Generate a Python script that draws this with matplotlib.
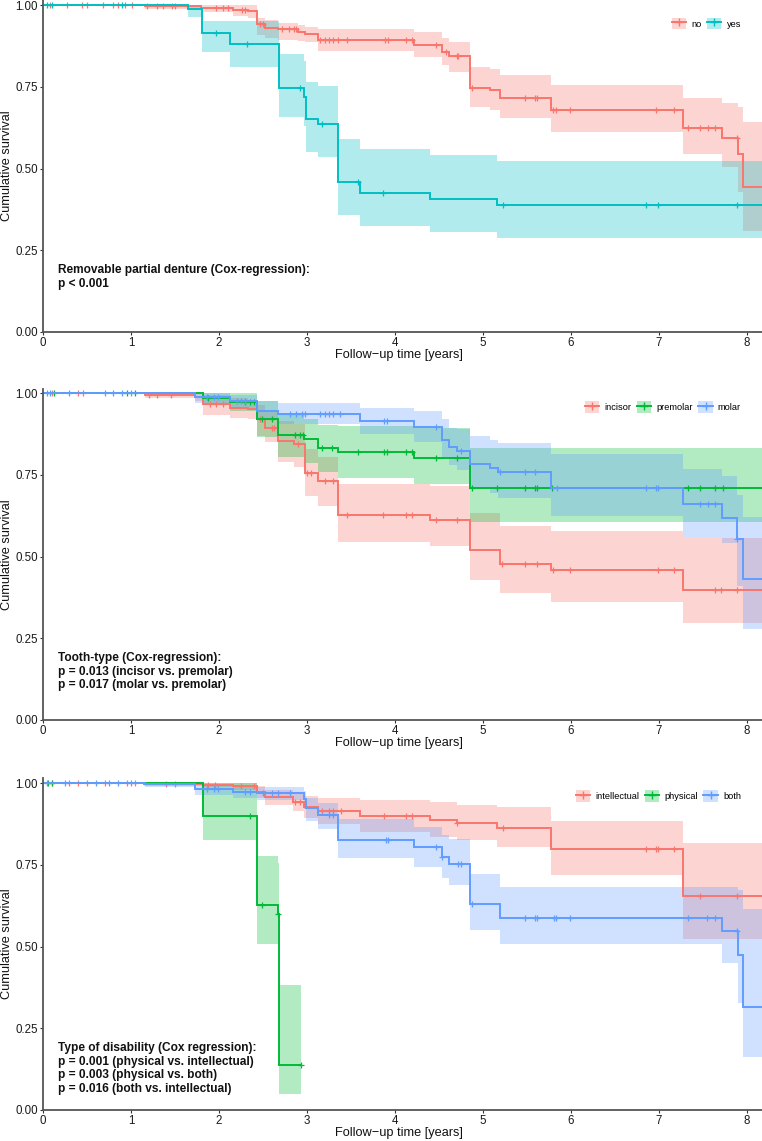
import numpy as np
import matplotlib
matplotlib.use("Agg")
import matplotlib.pyplot as plt
from matplotlib.patches import Patch
from matplotlib.lines import Line2D
from matplotlib.legend_handler import HandlerTuple

plt.rcParams['font.family'] = ['Liberation Sans', 'DejaVu Sans']

# ---------------- Panel 1: removable partial denture ----------------
p1_groups = ["no", "yes"]
p1_no_t = [1.16, 1.80, 2.16, 2.33, 2.43, 2.52, 2.67, 2.90, 2.98, 3.13, 4.21, 4.53, 4.61, 4.85, 5.08, 5.19, 5.77, 7.27, 7.71, 7.90, 7.95]
p1_no_s = [0.997, 0.993, 0.986, 0.983, 0.942, 0.930, 0.926, 0.919, 0.911, 0.894, 0.879, 0.856, 0.845, 0.746, 0.741, 0.715, 0.681, 0.625, 0.595, 0.544, 0.445]
p1_no_lo = [0.990, 0.978, 0.966, 0.962, 0.909, 0.900, 0.894, 0.890, 0.889, 0.860, 0.841, 0.817, 0.795, 0.690, 0.680, 0.654, 0.613, 0.545, 0.506, 0.429, 0.310]
p1_no_hi = [1.0, 1.0, 1.0, 1.0, 0.960, 0.955, 0.946, 0.940, 0.935, 0.927, 0.917, 0.901, 0.887, 0.812, 0.804, 0.787, 0.756, 0.715, 0.702, 0.690, 0.642]
p1_no_c = [0.08, 0.27, 0.44, 0.50, 0.68, 0.80, 0.85, 0.93, 1.01, 1.18, 1.30, 1.36, 1.47, 1.50, 1.97, 2.05, 2.10, 2.26, 2.30, 2.47, 2.50,
           2.72, 2.80, 2.85, 2.88, 3.15, 3.20, 3.25, 3.30, 3.35, 3.45, 3.89, 3.92, 4.13, 4.19, 4.47, 4.58, 4.70, 4.72, 4.88,
           5.48, 5.59, 5.61, 5.79, 5.83, 5.99, 6.97, 7.17, 7.33, 7.47, 7.56, 7.64, 7.89]
p1_no_end = 8.3

p1_yes_t = [1.65, 1.81, 2.125, 2.68, 2.97, 2.99, 3.13, 3.35, 3.60, 4.40, 5.16]
p1_yes_s = [0.989, 0.916, 0.881, 0.748, 0.720, 0.652, 0.637, 0.458, 0.426, 0.407, 0.389]
p1_yes_lo = [0.965, 0.858, 0.810, 0.657, 0.630, 0.552, 0.537, 0.358, 0.325, 0.305, 0.287]
p1_yes_hi = [1.0, 0.952, 0.952, 0.851, 0.830, 0.766, 0.753, 0.590, 0.559, 0.542, 0.523]
p1_yes_c = [0.05, 0.10, 0.90, 1.97, 2.32, 2.92, 3.17, 3.58, 3.86, 5.23, 6.85, 6.99, 7.89]
p1_yes_end = 8.3

# ---------------- Panel 2: tooth type ----------------
p2_groups = ["incisor", "premolar", "molar"]
p2_inc_t = [1.16, 1.73, 1.82, 2.125, 2.33, 2.43, 2.52, 2.67, 2.85, 2.98, 3.13, 3.35, 4.40, 4.85, 5.19, 5.77, 7.27]
p2_inc_s = [0.995, 0.989, 0.966, 0.956, 0.951, 0.920, 0.895, 0.854, 0.844, 0.757, 0.731, 0.627, 0.613, 0.521, 0.478, 0.458, 0.399]
p2_inc_lo = [0.985, 0.975, 0.935, 0.925, 0.920, 0.870, 0.850, 0.790, 0.775, 0.685, 0.654, 0.544, 0.532, 0.429, 0.389, 0.361, 0.297]
p2_inc_hi = [1.0, 1.0, 0.995, 0.985, 0.980, 0.965, 0.945, 0.915, 0.905, 0.830, 0.805, 0.721, 0.716, 0.634, 0.595, 0.580, 0.557]
p2_inc_c = [0.10, 0.40, 0.45, 1.20, 1.30, 1.45, 1.90, 1.97, 2.05, 2.47, 2.60, 2.63, 2.90, 3.00, 3.05, 3.20, 3.30, 3.45,
            3.86, 4.13, 4.19, 4.46, 4.70, 5.21, 5.48, 5.61, 5.80, 5.99, 6.99, 7.17, 7.64, 7.70, 7.89]
p2_inc_end = 8.3

p2_pre_t = [1.82, 2.125, 2.43, 2.67, 2.97, 3.13, 3.35, 4.21, 4.85]
p2_pre_s = [0.987, 0.973, 0.920, 0.872, 0.859, 0.833, 0.820, 0.803, 0.710]
p2_pre_lo = [0.966, 0.946, 0.866, 0.806, 0.787, 0.759, 0.741, 0.721, 0.605]
p2_pre_hi = [1.0, 1.0, 0.976, 0.940, 0.920, 0.902, 0.900, 0.895, 0.833]
p2_pre_c = [0.12, 0.95, 1.05, 1.87, 2.30, 2.35, 2.40, 2.49, 2.60, 2.86, 2.92, 2.96, 3.17, 3.28, 3.58, 3.87, 3.91, 4.13,
            4.19, 4.46, 4.70, 4.88, 5.16, 5.48, 5.59, 5.61, 5.78, 7.33, 7.47, 7.64, 7.73]
p2_pre_end = 8.3

p2_mol_t = [1.73, 2.125, 2.43, 2.67, 3.60, 4.21, 4.53, 4.61, 4.70, 4.85, 5.08, 5.17, 5.77, 7.27, 7.71, 7.89, 7.95]
p2_mol_s = [0.989, 0.976, 0.946, 0.936, 0.915, 0.897, 0.857, 0.835, 0.823, 0.784, 0.772, 0.759, 0.710, 0.660, 0.619, 0.554, 0.432]
p2_mol_lo = [0.970, 0.955, 0.920, 0.905, 0.874, 0.850, 0.805, 0.780, 0.765, 0.710, 0.695, 0.680, 0.624, 0.557, 0.542, 0.410, 0.280]
p2_mol_hi = [1.0, 0.995, 0.976, 0.971, 0.956, 0.946, 0.920, 0.895, 0.890, 0.869, 0.856, 0.847, 0.813, 0.768, 0.746, 0.690, 0.620]
p2_mol_c = [0.05, 0.08, 0.30, 0.70, 0.80, 0.90, 1.00, 1.86, 1.94, 1.99, 2.20, 2.25, 2.30, 2.81, 2.88, 2.94, 2.98, 3.15,
            3.20, 3.25, 3.30, 3.38, 3.87, 3.91, 4.46, 4.75, 5.19, 5.48, 5.59, 5.84, 6.85, 6.97, 6.99, 7.47, 7.56, 7.64, 7.89]
p2_mol_end = 8.3

# ---------------- Panel 3: type of disability ----------------
p3_groups = ["intellectual", "physical", "both"]
p3_int_t = [1.15, 1.82, 2.16, 2.43, 2.52, 2.84, 2.97, 3.13, 3.60, 4.40, 4.70, 5.16, 5.77, 7.27]
p3_int_s = [0.998, 0.996, 0.992, 0.974, 0.957, 0.942, 0.928, 0.916, 0.901, 0.889, 0.879, 0.863, 0.799, 0.655]
p3_int_lo = [0.993, 0.988, 0.980, 0.955, 0.935, 0.915, 0.895, 0.875, 0.852, 0.837, 0.827, 0.804, 0.720, 0.524]
p3_int_hi = [1.0, 1.0, 1.0, 0.992, 0.980, 0.970, 0.960, 0.955, 0.950, 0.942, 0.934, 0.927, 0.886, 0.817]
p3_int_c = [0.10, 0.30, 0.40, 0.50, 0.70, 0.95, 1.05, 1.40, 1.50, 1.87, 1.95, 2.25, 2.40, 2.86, 2.92, 3.17, 3.25, 3.30,
            3.39, 3.87, 4.13, 4.19, 4.70, 5.23, 6.85, 6.97, 6.99, 7.17, 7.47, 7.89]
p3_int_end = 8.3

p3_phy_t = [1.82, 2.435, 2.67, 2.685]
p3_phy_s = [0.901, 0.628, 0.599, 0.139]
p3_phy_lo = [0.827, 0.509, 0.509, 0.050]
p3_phy_hi = [1.0, 0.778, 0.755, 0.383]
p3_phy_c = [0.06, 0.10, 2.35, 2.49, 2.675, 2.93]
p3_phy_end = 2.93

p3_both_t = [1.16, 1.73, 2.16, 2.43, 2.97, 2.99, 3.13, 3.35, 4.21, 4.53, 4.61, 4.85, 5.19, 7.71, 7.90, 7.95]
p3_both_s = [0.997, 0.982, 0.974, 0.971, 0.951, 0.924, 0.903, 0.827, 0.804, 0.773, 0.753, 0.631, 0.589, 0.549, 0.473, 0.315]
p3_both_lo = [0.990, 0.965, 0.955, 0.950, 0.920, 0.885, 0.860, 0.771, 0.745, 0.710, 0.689, 0.551, 0.508, 0.450, 0.327, 0.162]
p3_both_hi = [1.0, 0.995, 0.990, 0.988, 0.975, 0.955, 0.940, 0.890, 0.867, 0.842, 0.829, 0.722, 0.684, 0.684, 0.674, 0.615]
p3_both_c = [0.05, 0.25, 0.60, 0.75, 0.85, 1.00, 1.86, 1.94, 1.99, 2.30, 2.35, 2.50, 2.60, 2.67, 2.81, 3.25, 3.30,
             3.90, 3.92, 4.46, 4.53, 4.71, 4.75, 4.88, 5.48, 5.59, 5.61, 5.81, 5.83, 5.99, 7.33, 7.55, 7.64, 7.89]
p3_both_end = 8.3

p1_notes = ["Removable partial denture (Cox-regression):", "p < 0.001"]
p2_notes = ["Tooth-type (Cox-regression):", "p = 0.013 (incisor vs. premolar)", "p = 0.017 (molar vs. premolar)"]
p3_notes = ["Type of disability (Cox regression):", "p = 0.001 (physical vs. intellectual)",
            "p = 0.003 (physical vs. both)", "p = 0.016 (both vs. intellectual)"]

x_ticks = [0, 1, 2, 3, 4, 5, 6, 7, 8]
y_ticks = [0.00, 0.25, 0.50, 0.75, 1.00]
y_tick_labels = ["0.00", "0.25", "0.50", "0.75", "1.00"]

RED, TEAL = "#F8766D", "#00BFC4"
GREEN, BLUE = "#00BA38", "#619CFF"

W, H = 762, 1141
fig = plt.figure(figsize=(W / 100, H / 100), dpi=100)

def add_axes(top_px, bottom_px):
    left, right = 43, 762
    return fig.add_axes([left / W, 1 - bottom_px / H, (right - left) / W, (bottom_px - top_px) / H])

def draw_series(ax, t, s, lo, hi, cens, end, color):
    tt = np.concatenate([[0.0], t, [end]])
    ss = np.concatenate([[1.0], s, [s[-1]]])
    ll = np.concatenate([[1.0], lo, [lo[-1]]])
    uu = np.concatenate([[1.0], hi, [hi[-1]]])
    ax.fill_between(tt, ll, uu, step="post", color=color, alpha=0.3, lw=0)
    ax.step(tt, ss, where="post", color=color, lw=1.4, solid_joinstyle="miter")
    c = np.asarray(cens)
    idx = np.searchsorted(tt, c, side="right") - 1
    ax.plot(c, ss[idx], ls="none", marker="+", ms=5, mew=0.9, color=color)

def style(ax, top_px, bottom_px):
    ax.set_xlim(0, 8.17)
    ax.set_ylim(0, (bottom_px - top_px) / 326.7)
    ax.set_xticks(x_ticks)
    ax.set_yticks(y_ticks)
    ax.set_yticklabels(y_tick_labels)
    for sp in ["top", "right"]:
        ax.spines[sp].set_visible(False)
    for sp in ["left", "bottom"]:
        ax.spines[sp].set_color("#555555")
        ax.spines[sp].set_linewidth(1.3)
    ax.tick_params(axis="both", length=2.5, width=0.8, color="#333333", labelsize=8.3, pad=1, labelcolor="#1a1a1a")
    ax.set_xlabel("Follow\u2212up time [years]", fontsize=9.2, color="#111111")
    ax.set_ylabel("Cumulative survival", fontsize=9.2, color="#111111", va="center")
    ax.xaxis.set_label_coords(0.495, -0.052)
    ax.yaxis.set_label_coords(-0.050, 0.5)

def notes(ax, lines):
    ax.text(0.17, 0.208, "\n".join(lines), fontsize=8.55, fontweight="bold", va="top", ha="left",
            linespacing=1.18, color="#111111")

def legend(ax, labels, colors, ypx):
    handles = [(Patch(facecolor=c, alpha=0.3, lw=0), Line2D([], [], color=c, lw=1.4, marker="+", ms=6, mew=1))
               for c in colors]
    ax.legend(handles, labels, handler_map={tuple: HandlerTuple(ndivide=1, pad=0)}, ncol=len(labels),
              loc="center right", bbox_to_anchor=(741 / W, 1 - ypx / H), bbox_transform=fig.transFigure,
              frameon=False, fontsize=6.7, handlelength=1.55, handleheight=1.55, handletextpad=0.55,
              columnspacing=0.6, borderaxespad=0, borderpad=0)

# Panel 1
ax1 = add_axes(0, 332)
draw_series(ax1, p1_no_t, p1_no_s, p1_no_lo, p1_no_hi, p1_no_c, p1_no_end, RED)
draw_series(ax1, p1_yes_t, p1_yes_s, p1_yes_lo, p1_yes_hi, p1_yes_c, p1_yes_end, TEAL)
style(ax1, 0, 332)
notes(ax1, p1_notes)
legend(ax1, p1_groups, [RED, TEAL], 23.5)

# Panel 2
ax2 = add_axes(389, 720)
draw_series(ax2, p2_inc_t, p2_inc_s, p2_inc_lo, p2_inc_hi, p2_inc_c, p2_inc_end, RED)
draw_series(ax2, p2_pre_t, p2_pre_s, p2_pre_lo, p2_pre_hi, p2_pre_c, p2_pre_end, GREEN)
draw_series(ax2, p2_mol_t, p2_mol_s, p2_mol_lo, p2_mol_hi, p2_mol_c, p2_mol_end, BLUE)
style(ax2, 389, 720)
notes(ax2, p2_notes)
legend(ax2, p2_groups, [RED, GREEN, BLUE], 407)

# Panel 3
ax3 = add_axes(778, 1110)
draw_series(ax3, p3_int_t, p3_int_s, p3_int_lo, p3_int_hi, p3_int_c, p3_int_end, RED)
draw_series(ax3, p3_phy_t, p3_phy_s, p3_phy_lo, p3_phy_hi, p3_phy_c, p3_phy_end, GREEN)
draw_series(ax3, p3_both_t, p3_both_s, p3_both_lo, p3_both_hi, p3_both_c, p3_both_end, BLUE)
style(ax3, 778, 1110)
notes(ax3, p3_notes)
legend(ax3, p3_groups, [RED, GREEN, BLUE], 796)

fig.savefig("out.png", dpi=100)
